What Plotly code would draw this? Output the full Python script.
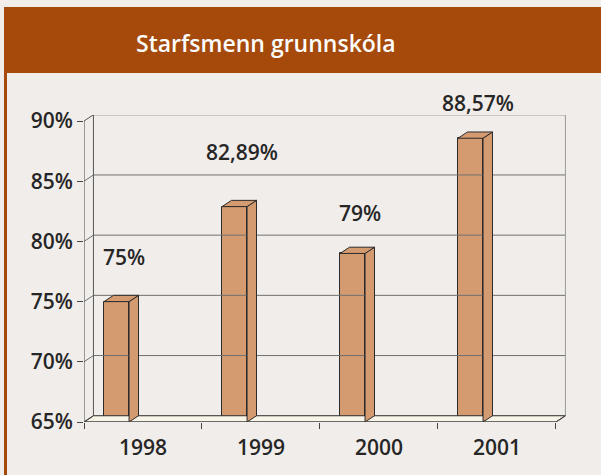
import plotly.graph_objects as go

# ---- data ----
years = ["1998", "1999", "2000", "2001"]
values = [75, 82.89, 79, 88.57]
y_ticks = [65, 70, 75, 80, 85, 90]
title_text = "Starfsmenn grunnskóla"

# ---- style ----
BAR = "#d49a70"
EDGE = "#2b2b2b"
GRID = "#707070"
BROWN = "#a64a0b"
BG = "#f1edea"
FONT = "Open Sans"
TXT = "#262626"
DX, DY = 0.08, 0.52          # 3-D depth in data units
BAR_OFF, BAR_W = -0.33, 0.212
LABEL_LIFT = [45, 55, 40, 35]  # px above bar top

W, H = 601, 475
ML, MR, MT, MB = 84, 35, 115, 53
YMIN, YMAX = 65, 90.5
XMIN, XMAX = -0.5, len(years) - 0.5 + 0.085

def px_x(p):
    return (p - ML) / (W - ML - MR)

def px_y(p):
    return (H - MB - p) / (H - MT - MB)

fig = go.Figure()

def line(xs, ys, color=GRID, width=1):
    fig.add_trace(go.Scatter(x=xs, y=ys, mode="lines", line=dict(color=color, width=width),
                             hoverinfo="skip", showlegend=False))

def poly(xs, ys, fill=BAR):
    fig.add_trace(go.Scatter(x=xs + [xs[0]], y=ys + [ys[0]], mode="lines", fill="toself",
                             fillcolor=fill, line=dict(color=EDGE, width=1),
                             hoverinfo="skip", showlegend=False))

x_left, x_right = -0.5, len(years) - 0.5
# floor slab
poly([x_left, x_right, x_right + DX, x_left + DX], [YMIN, YMIN, YMIN + DY, YMIN + DY], fill="#f8f5e8")
# grid lines on the back wall with diagonal to the front axis
for t in y_ticks:
    if t == YMIN:
        continue
    line([x_left, x_left + DX, x_right + DX], [t, t + DY, t + DY], color=GRID if t != y_ticks[-1] else "#555")
# walls
line([x_left + DX, x_left + DX], [YMIN + DY, y_ticks[-1] + DY], color="#555")
line([x_right + DX, x_right + DX], [YMIN + DY, y_ticks[-1] + DY], color="#999")
line([x_left, x_left], [YMIN, y_ticks[-1]], color="#444")
line([x_left, x_left + DX], [YMIN, YMIN + DY], color="#444")

# bars: front faces
xs_idx = list(range(len(years)))
fig.add_trace(go.Bar(x=xs_idx, y=values, width=BAR_W, offset=BAR_OFF,
                     marker=dict(color=BAR, line=dict(color=EDGE, width=1)),
                     hoverinfo="skip", showlegend=False))
# side and top faces
for i, v in enumerate(values):
    x0 = i + BAR_OFF
    x1 = x0 + BAR_W
    poly([x1, x1, x1 + DX, x1 + DX], [YMIN, v, v + DY, YMIN + DY])
    poly([x0, x0 + DX, x1 + DX, x1], [v, v + DY, v + DY, v])

# front floor edge
line([x_left, x_right, x_right + DX], [YMIN, YMIN, YMIN + DY], color="#444")

# data labels
def fmt(v):
    s = f"{v:.2f}".replace(".", ",")
    if s.endswith(",00"):
        s = s[:-3]
    return s + "%"

for i, v in enumerate(values):
    fig.add_annotation(x=i + BAR_OFF + BAR_W / 2 + DX / 2 + 0.025, y=v, text=fmt(v), showarrow=False,
                       yshift=LABEL_LIFT[i], font=dict(family=FONT, size=21, color=TXT, weight=600),
                       xanchor="center", yanchor="middle")

# header bar and left border
fig.add_shape(type="rect", xref="paper", yref="paper", x0=px_x(4), x1=px_x(605),
              y0=px_y(73), y1=px_y(7), fillcolor=BROWN, line=dict(width=0), layer="below")
fig.add_shape(type="rect", xref="paper", yref="paper", x0=px_x(4), x1=px_x(7),
              y0=px_y(480), y1=px_y(73), fillcolor=BROWN, line=dict(width=0), layer="below")
fig.add_annotation(xref="paper", yref="paper", x=px_x(266), y=px_y(43), text=title_text,
                   showarrow=False, font=dict(family=FONT, size=23, color="white", weight=600),
                   xanchor="center", yanchor="middle")

fig.update_layout(
    width=W, height=H, margin=dict(l=ML, r=MR, t=MT, b=MB),
    paper_bgcolor=BG, plot_bgcolor="rgba(0,0,0,0)",
    xaxis=dict(range=[XMIN, XMAX], tickvals=xs_idx, ticktext=years, ticks="",
               showgrid=False, zeroline=False, showline=False, ticklabelstandoff=11,
               tickfont=dict(family=FONT, size=21, color=TXT, weight=600)),
    xaxis2=dict(matches="x", overlaying="x", range=[XMIN, XMAX], anchor="y",
                tickvals=[x_left + k for k in range(len(years) + 1)], ticks="outside", ticklen=6,
                tickcolor="#444", showticklabels=False, showgrid=False, zeroline=False, side="bottom"),
    yaxis=dict(range=[YMIN, YMAX], tickvals=y_ticks, ticktext=[f"{t}%" for t in y_ticks],
               ticks="outside", ticklen=6,
               tickcolor="#444", showgrid=False, zeroline=False, showline=False,
               tickfont=dict(family=FONT, size=21, color=TXT, weight=600)),
    bargap=0,
)
fig.add_trace(go.Scatter(x=[x_left], y=[YMIN], xaxis="x2", mode="markers", marker=dict(opacity=0),
                         hoverinfo="skip", showlegend=False))

fig.write_html("out.html", config={"displayModeBar": False},
               post_script="document.body.style.margin='0';document.body.style.background='%s';" % BG)
